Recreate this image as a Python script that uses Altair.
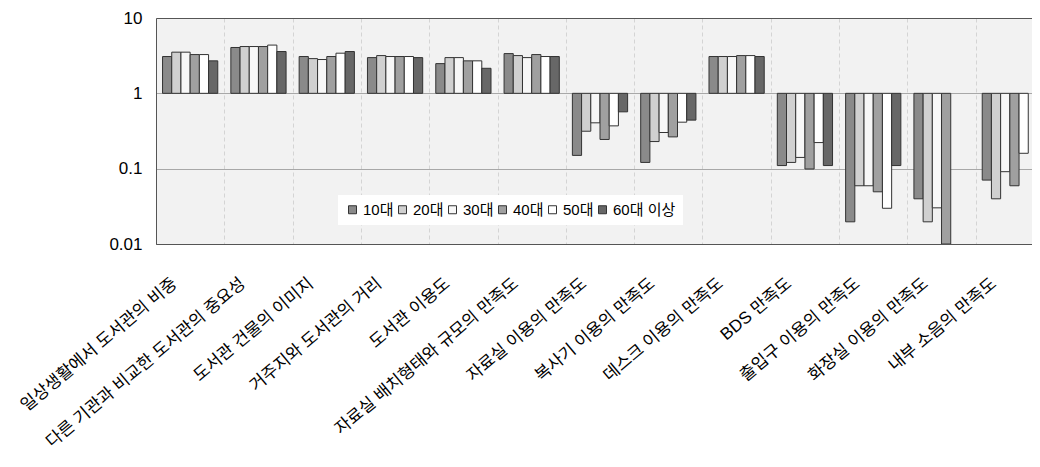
import altair as alt
import pandas as pd

categories = [
    "일상생활에서 도서관의 비중",
    "다른 기관과 비교한 도서관의 중요성",
    "도서관 건물의 이미지",
    "거주지와 도서관의 거리",
    "도서관 이용도",
    "자료실 배치형태와 규모의 만족도",
    "자료실 이용의 만족도",
    "복사기 이용의 만족도",
    "데스크 이용의 만족도",
    "BDS 만족도",
    "출입구 이용의 만족도",
    "화장실 이용의 만족도",
    "내부 소음의 만족도",
]
ages = ["10대", "20대", "30대", "40대", "50대", "60대 이상"]

v10 = [3.08, 4.06, 3.08, 2.98, 2.48, 3.37, 0.150, 0.121, 3.08, 0.110, 0.0197, 0.0398, 0.0705]
v20 = [3.52, 4.18, 2.89, 3.17, 2.98, 3.17, 0.314, 0.229, 3.08, 0.121, 0.0593, 0.0197, 0.0398]
v30 = [3.52, 4.18, 2.81, 3.08, 2.98, 2.98, 0.406, 0.302, 3.08, 0.141, 0.0593, 0.0302, 0.0912]
v40 = [3.27, 4.18, 3.08, 3.08, 2.70, 3.27, 0.244, 0.264, 3.17, 0.099, 0.0493, 0.0100, 0.0593]
v50 = [3.27, 4.37, 3.41, 3.08, 2.70, 3.08, 0.370, 0.414, 3.17, 0.222, 0.0298, None, 0.160]
v60 = [2.70, 3.59, 3.59, 2.98, 2.15, 3.08, 0.568, 0.441, 3.08, 0.110, 0.110, None, None]

series = [v10, v20, v30, v40, v50, v60]
colors = ["#8a8a8a", "#d0d0d0", "#f7f7f7", "#a0a0a0", "#ffffff", "#676767"]

rows = []
for age, vals in zip(ages, series):
    for cat, v in zip(categories, vals):
        if v is not None:
            rows.append({"category": cat, "age": age, "value": v})
df = pd.DataFrame(rows)

FONT = "Liberation Sans, Noto Sans CJK KR, sans-serif"

bars = alt.Chart(df).mark_bar(stroke="#333333", strokeWidth=1, clip=True).encode(
    x=alt.X(
        "category:N",
        sort=categories,
        scale=alt.Scale(domain=categories, paddingInner=0, paddingOuter=0, range=[0, 888]),
        axis=alt.Axis(
            title=None,
            labelAngle=-40,
            labelAlign="right",
            labelBaseline="middle",
            labelOffset=-16,
            labelPadding=37,
            labelFontSize=17,
            labelFont=FONT,
            labelColor="#000000",
            labelLimit=400,
            ticks=False,
            tickSize=0,
            domain=True,
            domainColor="#555555",
            domainWidth=1,
            grid=True,
            tickBand="extent",
            gridColor="#d4d4d4",
            gridDash=[4, 3],
            gridWidth=1,
        ),
    ),
    xOffset=alt.XOffset(
        "age:N",
        sort=ages,
        scale=alt.Scale(domain=ages, paddingInner=0, paddingOuter=0.71),
    ),
    y=alt.Y(
        "value:Q",
        scale=alt.Scale(type="log", domain=[0.01, 10], nice=False),
        axis=alt.Axis(
            title=None,
            values=[0.01, 0.1, 1, 10],
            format="~g",
            labelFontSize=17,
            labelFont=FONT,
            labelColor="#000000",
            labelPadding=14,
            ticks=False,
            domain=True,
            domainColor="#555555",
            domainWidth=1,
            grid=True,
            gridColor={
                "condition": {"test": "datum.value === 1 || datum.value === 0.1", "value": "#a8a8a8"},
                "value": "#555555",
            },
            gridWidth=1,
        ),
    ),
    y2=alt.datum(1),
    fill=alt.Fill(
        "age:N",
        sort=ages,
        scale=alt.Scale(domain=ages, range=colors),
        legend=alt.Legend(
            title=None,
            orient="none",
            legendX=182,
            legendY=177,
            direction="horizontal",
            columns=6,
            fillColor="#ffffff",
            padding=7,
            symbolType="square",
            symbolSize=64,
            symbolStrokeColor="#333333",
            symbolStrokeWidth=1,
            symbolOpacity=1,
            labelFontSize=15,
            labelFont=FONT,
            labelColor="#000000",
            labelOffset=3,
            columnPadding=1,
        ),
    ),
)

chart = bars.properties(
    width=876,
    height=226,
    autosize=alt.AutoSizeParams(type="none"),
    padding={"left": 148, "top": 10, "right": 0, "bottom": 215},
    background="#ffffff",
).configure_view(fill="#f2f2f2", stroke=None)

chart.save("out.html", embed_options={"renderer": "svg", "actions": False})
